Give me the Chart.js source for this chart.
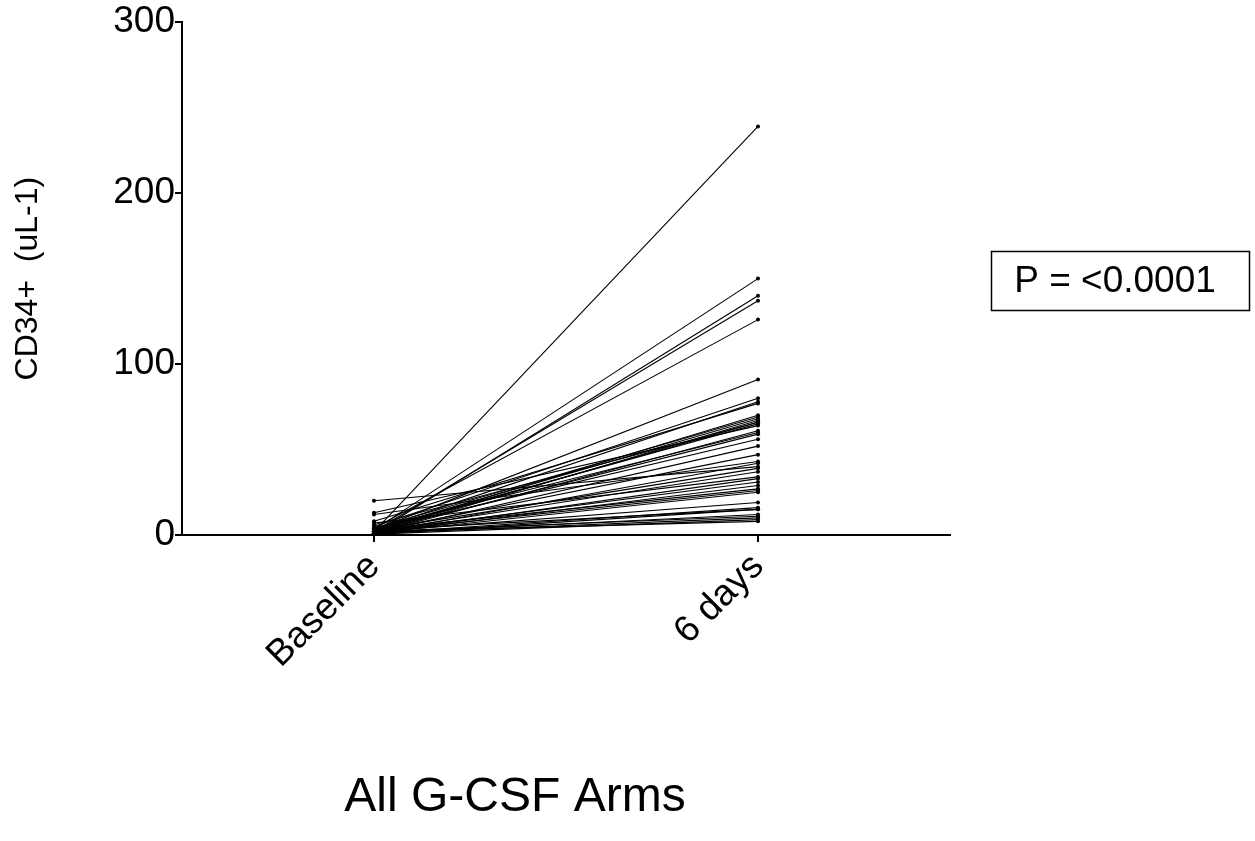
<!DOCTYPE html>
<html>
<head>
<meta charset="utf-8">
<script src="https://cdn.jsdelivr.net/npm/chart.js@4"></script>
<style>
  html, body { margin: 0; padding: 0; background: #fff; }
  canvas { display: block; }
</style>
</head>
<body>
<canvas id="chart" width="1255" height="841" style="width:1255px;height:841px"></canvas>
<script>
// Time points on the x axis
const categories = ['Baseline', '6 days'];

// CD34+ counts (uL-1) per subject, paired by index
const baselineValues = [2, 3, 1, 2, 4, 3, 5, 3, 8, 2, 4, 3, 1, 6, 2, 3, 13, 1, 4, 2, 3, 1, 2, 12,
                        1, 20, 3, 2, 7, 1, 2, 1, 3, 2, 1, 2, 1, 3, 0.5, 1, 2, 1, 0.5, 2];
const day6Values     = [239, 150, 140, 137, 126, 91, 80, 78, 77, 70, 69, 68, 67, 66, 66, 65, 64, 61, 60, 59, 56, 52, 47, 43,
                        42, 40, 39, 37, 34, 33, 31, 29, 27, 26, 25, 19, 16, 15, 15, 12, 11, 10, 9, 8];

// Y axis ticks
const yTicks = [0, 100, 200, 300];

const pValueText = 'P = <0.0001';
const groupTitle = 'All G-CSF Arms';

const FONT = "'Liberation Sans', Arial, Helvetica, sans-serif";

const datasets = baselineValues.map((b, i) => ({
  data: [b, day6Values[i]],
  borderColor: '#000',
  borderWidth: 1.1,
  pointRadius: 2,
  pointBackgroundColor: '#000',
  pointBorderWidth: 0,
  fill: false,
  tension: 0
}));

// Draws the group caption and the boxed p-value
const annotations = {
  id: 'annotations',
  afterDraw(chart) {
    const ctx = chart.ctx;
    ctx.save();
    ctx.fillStyle = '#000';
    ctx.strokeStyle = '#000';
    ctx.textAlign = 'center';
    ctx.textBaseline = 'middle';

    ctx.font = '48px ' + FONT;
    ctx.fillText(groupTitle, 515, 798);

    ctx.lineWidth = 1.5;
    ctx.strokeRect(991.5, 251.5, 258, 59);
    ctx.font = '37px ' + FONT;
    ctx.fillText(pValueText, 1115, 282);
    ctx.restore();
  }
};

new Chart(document.getElementById('chart'), {
  type: 'line',
  data: { labels: categories, datasets },
  plugins: [annotations],
  options: {
    responsive: false,
    animation: false,
    layout: { padding: { left: 0, right: 305, top: 22, bottom: 0 } },
    plugins: { legend: { display: false }, tooltip: { enabled: false } },
    scales: {
      x: {
        type: 'category',
        offset: true,
        grid: { display: true, drawOnChartArea: false, drawTicks: true, tickLength: 7, color: '#000', lineWidth: 2, offset: false },
        border: { display: true, color: '#000', width: 2 },
        ticks: { color: '#000', font: { size: 37, family: FONT }, minRotation: 45, maxRotation: 45, padding: 3 },
        afterFit(scale) { scale.height = 306; }
      },
      y: {
        min: 0,
        max: 300,
        afterBuildTicks(scale) { scale.ticks = yTicks.map(v => ({ value: v })); },
        grid: { display: true, drawOnChartArea: false, drawTicks: true, tickLength: 7, color: '#000', lineWidth: 2 },
        border: { display: true, color: '#000', width: 2 },
        ticks: { color: '#000', font: { size: 37, family: FONT }, padding: 0 },
        title: { display: true, text: 'CD34+  (uL-1)', color: '#000', font: { size: 32, family: FONT }, padding: { top: 9, bottom: 0 } },
        afterFit(scale) { scale.width = 182; }
      }
    }
  }
});
</script>
</body>
</html>
